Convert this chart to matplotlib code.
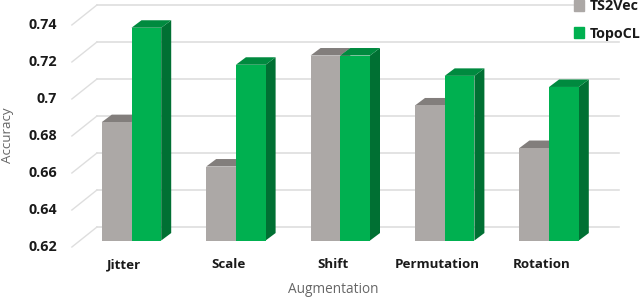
import numpy as np
import matplotlib
matplotlib.use('Agg')
import matplotlib.pyplot as plt
from matplotlib.patches import Patch

categories = ['Jitter', 'Scale', 'Shift', 'Permutation', 'Rotation']
ts2vec = [0.684, 0.660, 0.720, 0.693, 0.670]
topocl = [0.735, 0.715, 0.720, 0.709, 0.703]
yticks = [0.62, 0.64, 0.66, 0.68, 0.70, 0.72, 0.74]
yticklabels = ['0.62', '0.64', '0.66', '0.68', '0.7', '0.72', '0.74']

plt.rcParams['font.family'] = ['Open Sans', 'DejaVu Sans']

# fake 3d look, offsets in data units
W = 0.2845
DX = 10 / 104.4
DY = 0.00405
BASE = 0.62

fig = plt.figure(figsize=(6.4, 2.99), dpi=100)
ax = fig.add_axes([0, 0, 1, 1])
ax.set_xlim(-131.5 / 104.4, (640 - 131.5) / 104.4)
ax.set_ylim(0.5884, 0.75)
ax.axis('off')

# back wall grid and the slanted side wall lines
for v, lab in zip(yticks, yticklabels):
    ax.plot([-0.331, 4.669], [v + 0.0073, v + 0.0073], color='#dedede', lw=1.2, zorder=1)
    ax.plot([-0.571, -0.331], [v - 0.0035, v + 0.0073], color='#dedede', lw=1.0, zorder=1)
    ax.text(-0.714, v - 0.0035, lab, ha='right', va='center', fontsize=10.3,
            fontweight='bold', color='#1a1a1a')


def bar3d(x0, val, front, top, side):
    ax.fill([x0 + W, x0 + W + DX, x0 + W + DX, x0 + W],
            [BASE, BASE + DY, val + DY, val], color=side, lw=0, zorder=2)
    ax.fill([x0, x0 + DX, x0 + W + DX, x0 + W],
            [val, val + DY, val + DY, val], color=top, lw=0, zorder=2)
    ax.bar(x0, val - BASE, W, bottom=BASE, align='edge', color=front, lw=0, zorder=2)


x = np.arange(len(categories))
for i in x:
    bar3d(i - W, ts2vec[i], '#aca8a6', '#827e7c', '#827e7c')
    bar3d(i, topocl[i], '#00b050', '#008a3f', '#007033')
    ax.text(i - 0.072, 0.6069, categories[i], ha='center', va='center', fontsize=9.6,
            fontweight='bold', color='#1a1a1a')

ax.text(1.93, 0.5933, 'Augmentation', ha='center', va='center', fontsize=9.8, color='#666666')
ax.text(-1.19, 0.677, 'Accuracy', ha='center', va='center', rotation=90, fontsize=9.6,
        color='#666666')

handles = [Patch(color='#aca8a6', label='TS2Vec'), Patch(color='#00b050', label='TopoCL')]
leg = ax.legend(handles=handles, loc='upper left', bbox_to_anchor=(574 / 640, 1.002),
                frameon=True, facecolor='white', edgecolor='none', framealpha=1,
                borderpad=0, borderaxespad=0, handlelength=0.72, handleheight=0.72,
                handletextpad=0.4, labelspacing=0.92, prop={'size': 10.3, 'weight': 'bold'})
for t in leg.get_texts():
    t.set_color('#1a1a1a')
leg.set_zorder(5)

fig.savefig('out.png', dpi=100)
